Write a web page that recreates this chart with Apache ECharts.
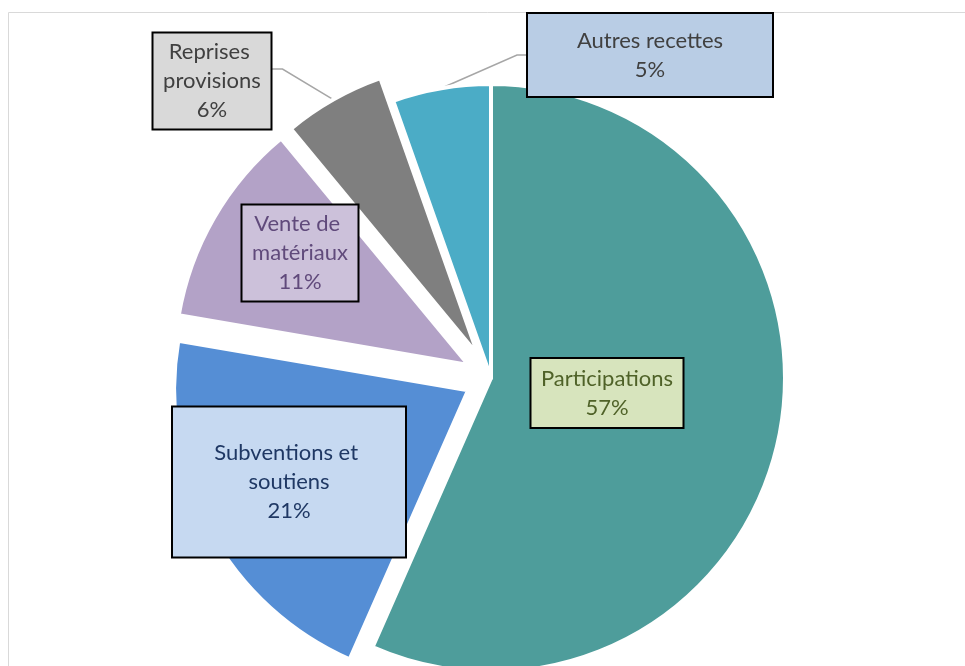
<!DOCTYPE html>
<html>
<head>
<meta charset="utf-8">
<script src="https://cdn.jsdelivr.net/npm/echarts@6/dist/echarts.min.js"></script>
<style>
  html, body { margin: 0; padding: 0; background: #fff; }
  #chart { width: 965px; height: 666px; }
</style>
</head>
<body>
<div id="chart"></div>
<script>
// data
const categories = ['Participations', 'Subventions et soutiens', 'Vente de matériaux', 'Reprises provisions', 'Autres recettes'];
const values = [56.6, 21.1, 11.3, 5.6, 5.4];
const exploded = [false, true, true, true, false];

// look
const sliceColors = ['#4E9D9B', '#558ED5', '#B3A2C7', '#7F7F7F', '#4BACC6'];
const boxColors = ['#D7E4BD', '#C6D9F1', '#CCC1DA', '#D9D9D9', '#B9CDE5'];
const textColors = ['#4F6228', '#1F3864', '#604A7B', '#404040', '#404040'];
// label boxes: center x, center y, width, padding [top, right, bottom, left]
const boxes = [
  [607, 393, 151, [7, 5, 3, 5]],
  [289, 482, 232, [33, 31, 29, 31]],
  [300, 253, 115, [6, 4, 2, 4]],
  [212, 81, 117, [6, 4, 2, 4]],
  [650, 55, 244, [14, 22, 10, 22]]
];
// leader lines: which side of the box they attach to, and vertical shift
const leaders = { 3: { side: 'right', dy: -12 }, 4: { side: 'left', dy: 0 } };

const pieCenter = [491, 378];
const pieRadius = 294;
const explodeBy = 26;

const chart = echarts.init(document.getElementById('chart'));

chart.setOption({
  animation: false,
  graphic: [{
    type: 'rect',
    silent: true,
    z: -10,
    shape: { x: 8.5, y: 12.5, width: 1000, height: 700 },
    style: { fill: 'none', stroke: '#D9D9D9', lineWidth: 1 }
  }],
  series: [
    {
      // slices (exploded ones are "selected")
      type: 'pie',
      center: pieCenter,
      radius: pieRadius,
      startAngle: 90,
      clockwise: true,
      selectedMode: 'multiple',
      selectedOffset: explodeBy,
      silent: true,
      emphasis: { disabled: true },
      itemStyle: { borderColor: '#fff', borderWidth: 4 },
      select: { itemStyle: { borderColor: '#fff', borderWidth: 4 } },
      label: { show: false },
      labelLine: { show: false },
      data: categories.map(function (name, i) {
        return {
          name: name,
          value: values[i],
          selected: exploded[i],
          itemStyle: { color: sliceColors[i] }
        };
      })
    },
    {
      // labels only
      type: 'pie',
      center: pieCenter,
      radius: pieRadius,
      startAngle: 90,
      clockwise: true,
      percentPrecision: 0,
      selectedMode: false,
      silent: true,
      avoidLabelOverlap: false,
      emphasis: { disabled: true },
      itemStyle: { color: 'rgba(0,0,0,0)', borderWidth: 0 },
      label: {
        formatter: '{b}\n{d}%',
        fontFamily: 'Lato',
        fontSize: 22,
        lineHeight: 29,
        align: 'center',
        overflow: 'break',
        borderColor: '#000',
        borderWidth: 2
      },
      labelLine: {
        show: false,
        length: 10,
        length2: 10,
        lineStyle: { color: '#A6A6A6', width: 1.5 }
      },
      labelLayout: function (p) {
        const i = p.dataIndex;
        const b = boxes[i];
        const res = { x: b[0], y: b[1], align: 'center', verticalAlign: 'middle' };
        const ld = leaders[i];
        if (ld && p.labelLinePoints) {
          const pts = p.labelLinePoints;
          if (exploded[i]) {
            // follow the slice outwards
            const vx = pts[0][0] - pieCenter[0];
            const vy = pts[0][1] - pieCenter[1];
            const len = Math.sqrt(vx * vx + vy * vy);
            pts[0] = [pts[0][0] + vx / len * explodeBy, pts[0][1] + vy / len * explodeBy];
          }
          const half = b[2] / 2;
          const ex = ld.side === 'right' ? b[0] + half : b[0] - half;
          const ey = b[1] + ld.dy;
          pts[2] = [ex, ey];
          pts[1] = [ex + (ld.side === 'right' ? 12 : -11), ey];
          res.labelLinePoints = pts;
        }
        return res;
      },
      data: categories.map(function (name, i) {
        const b = boxes[i];
        return {
          name: name,
          value: values[i],
          label: {
            position: leaders[i] ? 'outside' : 'inside',
            color: textColors[i],
            backgroundColor: boxColors[i],
            width: b[2] - b[3][1] - b[3][3],
            padding: b[3]
          },
          labelLine: { show: !!leaders[i] }
        };
      })
    }
  ]
});
</script>
</body>
</html>
